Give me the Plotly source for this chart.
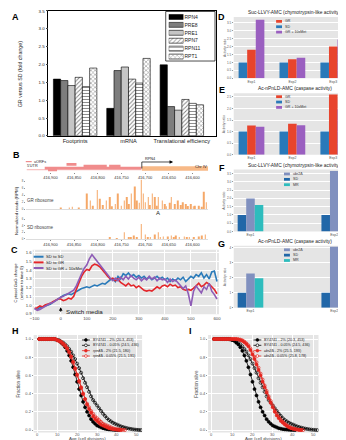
import plotly.graph_objects as go

W, H = 346, 440
FONT = "Liberation Sans, Arial, sans-serif"


def fx(p):
    return p / W


def fy(p):
    return 1 - p / H


def dx(a, b):
    return [fx(a), fx(b)]


def dy(top, bottom):
    return [fy(bottom), fy(top)]


# ---------------- Panel A data ----------------
a_categories = ["Footprints", "mRNA", "Translational efficiency"]
a_genes = ["RPN4", "PRE8", "PRE1", "RPN7", "RPN11", "RPT1"]
a_rpn4 = [1.59, 0.77, 1.99]
a_pre8 = [1.55, 1.83, 0.82]
a_pre1 = [1.41, 1.93, 0.72]
a_rpn7 = [1.64, 1.59, 1.02]
a_rpn11 = [1.38, 1.48, 0.91]
a_rpt1 = [1.90, 2.17, 0.87]
a_yticks = [0.0, 0.5, 1.0, 1.5, 2.0, 2.5, 3.0, 3.5]

# ---------------- Panel B data ----------------
b_ticks = [416900, 416850, 416800, 416750, 416700, 416650, 416600]
b_gr_pos = [416878, 416854, 416823, 416816, 416801, 416796, 416782, 416775, 416763,
            416758, 416744, 416739, 416729, 416722, 416717, 416708, 416704, 416700,
            416693, 416685, 416679, 416672, 416664, 416659, 416645, 416638, 416631,
            416621, 416614, 416604, 416595, 416587, 416576, 416571,
            416860, 416840, 416810, 416790, 416770, 416750, 416735, 416712, 416690,
            416675, 416655, 416648, 416625, 416610, 416598, 416580]
b_gr_rpm = [0.5, 0.7, 4.5, 2.5, 5.5, 3.0, 2.5, 3.5, 1.5,
            4.5, 2.5, 3.5, 4.5, 6.5, 2.5, 8.5, 4.5, 2.0,
            3.5, 4.5, 3.5, 3.5, 2.5, 1.5, 3.5, 1.5, 2.5,
            2.0, 1.5, 1.5, 1.0, 1.0, 5.0, 2.0,
            0.3, 0.4, 1.0, 1.2, 0.8, 1.0, 1.5, 1.8, 1.2,
            1.0, 0.8, 1.8, 1.2, 0.9, 0.8, 0.7]
b_sd_pos = [416775, 416744, 416734, 416724, 416717, 416708, 416700, 416689, 416679,
            416672, 416662, 416652, 416645, 416635, 416628, 416617, 416607, 416597,
            416587, 416580, 416573, 416760, 416730, 416695, 416668, 416640, 416612]
b_sd_rpm = [0.5, 2.0, 0.5, 1.0, 0.3, 4.5, 1.3, 0.5, 1.3,
            2.0, 0.7, 0.7, 1.0, 1.0, 0.3, 0.7, 0.5, 0.5,
            0.7, 1.0, 1.3, 0.2, 0.3, 0.4, 0.5, 0.4, 0.3]
uorf_start = [416912, 416866, 416830, 416776, 416905]
uorf_end = [416708, 416845, 416781, 416752, 416886]
uorf_row = [0.2, 2.1, 1.3, 1.3, -0.8]
utr5_start, utr5_end = 416950, 416708
rpn4_start, rpn4_end = 416707, 416567
rpn4_arrow_end = 416645

# ---------------- Panel C data ----------------
c_time = list(range(-100, 601, 10))
c_sd_sd = [0.96, 0.95, 0.97, 0.98, 0.99, 1.00, 1.01, 1.03, 1.05, 1.07,
           1.10, 1.11, 1.12, 1.13, 1.12, 1.14, 1.15, 1.17, 1.19, 1.20,
           1.21, 1.20, 1.22, 1.23, 1.22, 1.24, 1.25, 1.24, 1.27, 1.29,
           1.30, 1.27, 1.33, 1.30, 1.36, 1.34, 1.37, 1.33, 1.35, 1.32,
           1.34, 1.31, 1.33, 1.30, 1.32, 1.29, 1.31, 1.33, 1.30, 1.32,
           1.29, 1.31, 1.27, 1.30, 1.28, 1.31, 1.29, 1.32, 1.27, 1.30,
           1.33, 1.31, 1.35, 1.33, 1.37, 1.31, 1.35, 1.30, 1.38, 1.39, 1.27]
c_sd_gr = [0.96, 0.97, 0.99, 0.98, 1.00, 1.01, 1.02, 1.04, 1.06, 1.07,
           1.07, 1.05, 1.06, 1.08, 1.07, 1.10, 1.18, 1.26, 1.33, 1.38,
           1.41, 1.40, 1.45, 1.47, 1.46, 1.44, 1.41, 1.37, 1.33, 1.30,
           1.31, 1.28, 1.30, 1.26, 1.24, 1.22, 1.25, 1.22, 1.23, 1.20,
           1.22, 1.19, 1.17, 1.16, 1.17, 1.16, 1.19, 1.21, 1.19, 1.22,
           1.23, 1.21, 1.24, 1.22, 1.23, 1.20, 1.21, 1.18, 1.17, 1.18,
           1.17, 1.19, 1.22, 1.25, 1.21, 1.23, 1.26, 1.24, 1.21, 1.18, 1.13]
c_sd_gr_met = [0.96, 0.94, 0.95, 0.97, 0.99, 1.00, 1.02, 1.03, 1.05, 1.08,
               1.09, 1.10, 1.12, 1.13, 1.15, 1.17, 1.22, 1.30, 1.36, 1.42,
               1.46, 1.53, 1.58, 1.54, 1.50, 1.46, 1.42, 1.38, 1.35, 1.31,
               1.28, 1.31, 1.28, 1.32, 1.29, 1.33, 1.30, 1.34, 1.31, 1.29,
               1.32, 1.28, 1.31, 1.29, 1.33, 1.30, 1.32, 1.28, 1.31, 1.29,
               1.30, 1.26, 1.30, 1.27, 1.29, 1.26, 1.23, 1.19, 1.22, 1.13,
               0.99, 1.16, 1.22, 1.18, 1.14, 1.21, 1.18, 1.25, 1.16, 1.12, 1.07]
c_names = ["SD to SD", "SD to GR", "SD to GR + 10xMet"]
c_xticks = [-100, 0, 100, 200, 300, 400, 500, 600]
c_yticks = [0.9, 1.0, 1.1, 1.2, 1.3, 1.4, 1.5, 1.6]

# ---------------- Panels D-G data ----------------
de_exps = ["Exp1", "Exp2", "Exp3"]
de_names = ["GR", "SD", "GR + 10xMet"]
d_gr = [1.8, 1.2, 2.0]
d_sd = [1.0, 1.0, 1.0]
d_gr_met = [3.7, 1.3, 2.45]
e_gr = [1.26, 1.34, 2.6]
e_sd = [1.0, 1.0, 1.0]
e_gr_met = [1.21, 1.27, 1.96]
fg_exps = ["Exp1", "Exp2"]
fg_names = ["ubr2Δ", "SD", "MR"]
f_ubr2 = [2.0, 3.66]
f_sd = [1.0, 1.0]
f_mr = [1.6, 2.26]
g_ubr2 = [2.29, 4.07]
g_sd = [1.0, 1.0]
g_mr = [1.96, 3.13]

# ---------------- Panels H-I data ----------------
ages = list(range(1, 53))
by_2 = [1, 1, 1, 1, 1, 1, 1, 1, 0.995, 0.99, 0.98, 0.96, 0.94, 0.91, 0.87, 0.82, 0.76,
        0.69, 0.61, 0.53, 0.45, 0.38, 0.31, 0.25, 0.20, 0.16, 0.12, 0.09, 0.07, 0.05,
        0.04, 0.03, 0.02, 0.015, 0.01, 0.007, 0.005, 0.003, 0.002, 0.001, 0.0]
by_005 = [1, 1, 1, 1, 1, 1, 1, 1, 1, 0.99, 0.985, 0.97, 0.96, 0.94, 0.92, 0.89, 0.86,
          0.82, 0.78, 0.73, 0.68, 0.63, 0.57, 0.52, 0.47, 0.42, 0.37, 0.33, 0.30, 0.27,
          0.24, 0.21, 0.18, 0.155, 0.13, 0.11, 0.095, 0.08, 0.07, 0.06, 0.05, 0.04,
          0.033, 0.027, 0.021, 0.016, 0.012, 0.008, 0.005, 0.003, 0.001, 0.0]
rpn4_2 = [1, 1, 1, 1, 1, 1, 1, 1, 1, 0.99, 0.98, 0.97, 0.95, 0.93, 0.90, 0.86, 0.81,
          0.75, 0.68, 0.61, 0.54, 0.47, 0.40, 0.34, 0.28, 0.23, 0.19, 0.15, 0.12, 0.10,
          0.08, 0.06, 0.05, 0.04, 0.03, 0.02, 0.015, 0.01, 0.007, 0.004, 0.002, 0.0]
rpn4_005 = [1, 1, 1, 1, 1, 1, 1, 1, 1, 0.985, 0.975, 0.96, 0.94, 0.92, 0.89, 0.85, 0.80,
            0.74, 0.67, 0.60, 0.53, 0.46, 0.40, 0.34, 0.29, 0.25, 0.21, 0.18, 0.15, 0.13,
            0.11, 0.09, 0.07, 0.06, 0.05, 0.04, 0.03, 0.02, 0.015, 0.01, 0.007, 0.004,
            0.002, 0.0]
ubr2_2 = [1, 1, 1, 1, 1, 1, 1, 1, 1, 1, 1, 1, 0.995, 0.99, 0.98, 0.965, 0.945, 0.92,
          0.88, 0.83, 0.78, 0.72, 0.66, 0.60, 0.53, 0.47, 0.41, 0.35, 0.30, 0.25, 0.20,
          0.16, 0.13, 0.10, 0.08, 0.06, 0.045, 0.03, 0.02, 0.014, 0.009, 0.005, 0.002, 0.0]
ubr2_005 = [1, 1, 1, 1, 1, 1, 1, 1, 1, 1, 1, 1, 0.998, 0.993, 0.985, 0.972, 0.953, 0.93,
            0.895, 0.85, 0.80, 0.745, 0.685, 0.62, 0.555, 0.49, 0.43, 0.37, 0.32, 0.27,
            0.22, 0.18, 0.145, 0.115, 0.09, 0.07, 0.052, 0.038, 0.027, 0.018, 0.012,
            0.007, 0.004, 0.002, 0.0]
h_names = ["BY4741 - 2% (20.3, 453)", "BY4741 - 0.05% (24.5, 436)",
           "<i>rpn4</i>Δ - 2% (21.5, 180)", "<i>rpn4</i>Δ - 0.05% (21.5, 191)"]
i_names = ["BY4741 - 2% (20.3, 453)", "BY4741 - 0.05% (24.5, 436)",
           "<i>ubr2</i>Δ - 2% (25.5, 193)", "<i>ubr2</i>Δ - 0.05% (25.8, 178)"]
hi_yticks = [0.0, 0.2, 0.4, 0.6, 0.8, 1.0]
hi_xticks = [0, 10, 20, 30, 40, 50]

# =====================================================================
fig = go.Figure()
layout = dict(width=W, height=H, margin=dict(l=0, r=0, t=0, b=0), autosize=False,
              paper_bgcolor="white", plot_bgcolor="rgba(0,0,0,0)", showlegend=False,
              font=dict(family=FONT, size=5, color="#333"), barmode="overlay")
ann = []
shapes = []


def text(px, py, s, size, anchor="center", angle=0, color="#222", bold=False):
    if bold:
        s = "<b>" + s + "</b>"
    ann.append(dict(x=fx(px), y=fy(py), xref="paper", yref="paper", text=s,
                    showarrow=False, font=dict(size=size, color=color, family=FONT),
                    xanchor=anchor, yanchor="middle", textangle=angle, borderpad=0))


def bg(x0, x1, top, bottom, color="#e5e5e5"):
    shapes.append(dict(type="rect", xref="paper", yref="paper", x0=fx(x0), x1=fx(x1),
                       y0=fy(bottom), y1=fy(top), fillcolor=color, line=dict(width=0),
                       layer="below"))


# ---------------- Panel A ----------------
a_series = [a_rpn4, a_pre8, a_pre1, a_rpn7, a_rpn11, a_rpt1]
a_fill = ["black", "#7d7d7d", "#c6c6c6", "white", "white", "white"]
a_pat = ["", "", "", "/", "-", "x"]
gw = 0.815
w = gw / 6
for i, vals in enumerate(a_series):
    fig.add_trace(go.Bar(
        x=a_categories, y=vals, width=w, offset=-gw / 2 + i * w, name=a_genes[i],
        marker=dict(color=a_fill[i], line=dict(color="black", width=0.6),
                    pattern=dict(shape=a_pat[i], fgcolor="black", bgcolor=a_fill[i],
                                 size=3, solidity=0.3)),
        xaxis="x", yaxis="y"))
# legend swatches
fig.add_trace(go.Bar(
    y=a_genes, x=[1] * 6, orientation="h", width=0.62,
    marker=dict(color=a_fill, line=dict(color="black", width=0.6),
                pattern=dict(shape=a_pat, fgcolor="black", bgcolor=a_fill, size=3,
                             solidity=0.3)),
    xaxis="x2", yaxis="y2"))
layout["xaxis"] = dict(domain=dx(38, 208), anchor="y", type="category", range=[-0.5, 2.64],
                       showline=True, linecolor="black", linewidth=0.8, mirror=True,
                       ticks="", tickfont=dict(size=5.6, color="#222"), showgrid=False,
                       zeroline=False)
layout["yaxis"] = dict(domain=dy(2, 128), anchor="x", range=[0, 3.5], tickvals=a_yticks,
                       tickformat=".1f", showline=True, linecolor="black", linewidth=0.8,
                       mirror=True, ticks="outside", ticklen=2, tickwidth=0.6,
                       tickfont=dict(size=4.4, color="#222"), showgrid=False, zeroline=False)
layout["xaxis2"] = dict(domain=dx(160, 175), anchor="y2", range=[0, 1], visible=False)
layout["yaxis2"] = dict(domain=dy(4, 52), anchor="x2", type="category", autorange="reversed",
                        side="right", showgrid=False, zeroline=False, showline=False,
                        ticks="", tickfont=dict(size=5, color="#222"))
shapes.append(dict(type="rect", xref="paper", yref="paper", x0=fx(157), x1=fx(207),
                   y0=fy(52.5), y1=fy(2.5), line=dict(color="black", width=0.7)))
text(10, 66, "GR versus SD (fold change)", 5.3, angle=-90)
text(5, 8, "A", 9, bold=True, color="black")

# ---------------- Panel B ----------------
b_range = [416952, 416567]
ux, uy = [], []
for s, e, r in zip(uorf_start, uorf_end, uorf_row):
    ux += [s, e, None]
    uy += [r, r, None]
fig.add_trace(go.Scatter(x=[utr5_start, utr5_end], y=[-0.6, -0.6], mode="lines",
                         line=dict(color="#f6b3b3", width=1), xaxis="x3", yaxis="y3"))
fig.add_trace(go.Scatter(x=ux, y=uy, mode="lines", line=dict(color="#f08c8c", width=2.6),
                         xaxis="x3", yaxis="y3"))
fig.add_trace(go.Scatter(x=[rpn4_start, rpn4_end], y=[0, 0], mode="lines",
                         line=dict(color="#f7b987", width=4.5), xaxis="x3", yaxis="y3"))
fig.add_trace(go.Scatter(x=[rpn4_start, rpn4_start, rpn4_arrow_end], y=[0, 3.3, 3.3],
                         mode="lines", line=dict(color="black", width=0.7),
                         xaxis="x3", yaxis="y3"))
ann.append(dict(x=rpn4_arrow_end - 4, y=3.3, ax=rpn4_arrow_end + 6, ay=3.3, xref="x3",
                yref="y3", axref="x3", ayref="y3", showarrow=True, arrowhead=2,
                arrowsize=1, arrowwidth=0.7, arrowcolor="black", text=""))
fig.add_trace(go.Bar(x=b_gr_pos, y=b_gr_rpm, width=1.3, marker=dict(color="#f5a868", line=dict(width=0)),
                     xaxis="x4", yaxis="y4"))
fig.add_trace(go.Bar(x=b_sd_pos, y=b_sd_rpm, width=1.3, marker=dict(color="#f5a868", line=dict(width=0)),
                     xaxis="x5", yaxis="y5"))
layout["xaxis3"] = dict(domain=dx(15, 200), anchor="y3", range=b_range, tickvals=b_ticks,
                        tickformat=",d", tickfont=dict(size=4, color="#333"), ticks="outside",
                        ticklen=1.5, tickwidth=0.5, tickcolor="#888", showgrid=False,
                        zeroline=False, showline=False)
layout["yaxis3"] = dict(domain=dy(149, 164), anchor="x3", range=[-1.5, 6], visible=False)
layout["xaxis4"] = dict(domain=dx(15, 200), anchor="y4", range=b_range, showticklabels=False,
                        ticks="", showgrid=False, zeroline=False, showline=True,
                        linecolor="#dddddd", linewidth=0.5)
layout["yaxis4"] = dict(domain=dy(172, 202), anchor="x4", range=[0, 8.5], tickvals=[0, 2, 4, 6, 8],
                        tickfont=dict(size=2.8, color="#555"), ticks="outside", ticklen=1,
                        tickwidth=0.4, tickcolor="#999", showgrid=False, zeroline=False,
                        showline=False)
layout["xaxis5"] = dict(domain=dx(15, 200), anchor="y5", range=b_range, tickvals=b_ticks,
                        tickformat=",d", tickfont=dict(size=4, color="#333"), ticks="outside",
                        ticklen=1.5, tickwidth=0.5, tickcolor="#888", showgrid=False,
                        zeroline=False, showline=True, linecolor="#dddddd", linewidth=0.5)
layout["yaxis5"] = dict(domain=dy(211, 232), anchor="x5", range=[0, 6.3], tickvals=[0, 2, 4, 6],
                        tickfont=dict(size=2.8, color="#555"), ticks="outside", ticklen=1,
                        tickwidth=0.4, tickcolor="#999", showgrid=False, zeroline=False,
                        showline=False)
shapes.append(dict(type="line", xref="paper", yref="paper", x0=fx(15), x1=fx(21),
                   y0=fy(154), y1=fy(154), line=dict(color="#f08c8c", width=1.2)))
text(22.5, 154, "uORFs", 3.8, anchor="left")
text(15, 158.5, "5'UTR", 3.8, anchor="left")
text(134.5, 151.5, "RPN4", 3.8, anchor="left")
text(186, 158.5, "Chr IV", 4.2, anchor="left")
text(15.5, 193, "GR ribosome", 4.5, anchor="left", color="#444")
text(15.5, 221, "SD ribosome", 4.5, anchor="left", color="#444")
text(149, 205.5, "A", 6, color="#222")
text(5, 203, "Normalized reads (RPM)", 4.4, angle=-90)
text(6, 147, "B", 9, bold=True, color="black")

# ---------------- Panel C ----------------
c_colors = ["#2b7bba", "#e3262b", "#8e5cb6"]
for vals, col in zip([c_sd_sd, c_sd_gr, c_sd_gr_met], c_colors):
    fig.add_trace(go.Scatter(x=c_time, y=vals, mode="lines", line=dict(color=col, width=1.6),
                             xaxis="x6", yaxis="y6"))
bg(22, 211, 243, 308)
layout["xaxis6"] = dict(domain=dx(22, 211), anchor="y6", range=[-107.6, 607.6], tickvals=c_xticks,
                        tickfont=dict(size=4.3, color="#444"), ticks="", showgrid=True,
                        gridcolor="white", gridwidth=0.7, zeroline=False, showline=False)
layout["yaxis6"] = dict(domain=dy(243, 308), anchor="x6", range=[0.895, 1.635], tickvals=c_yticks,
                        tickformat=".1f", tickfont=dict(size=4.3, color="#444"), ticks="",
                        showgrid=True, gridcolor="white", gridwidth=0.7, zeroline=False,
                        showline=False)
for k, (nm, col) in enumerate(zip(c_names, c_colors)):
    yy = 250 + k * 5.7
    shapes.append(dict(type="line", xref="paper", yref="paper", x0=fx(23), x1=fx(33),
                       y0=fy(yy), y1=fy(yy), line=dict(color=col, width=2)))
    text(35, yy, nm, 4.2, anchor="left")
ann.append(dict(x=0, y=0.975, ax=0, ay=0.905, xref="x6", yref="y6", axref="x6", ayref="y6",
                showarrow=True, arrowhead=2, arrowsize=0.9, arrowwidth=0.8,
                arrowcolor="black", text=""))
text(55, 305.5, "Switch media", 6.2, anchor="left", color="#222")
text(8, 276, "Cytosol GoG change<br>(relative to time 0)", 4.2, angle=-90)
text(4, 243, "C", 9, bold=True, color="black")

# ---------------- Panels D-G ----------------


def grouped(cats, series, colors, gwid, xa, ya):
    n = len(series)
    wd = gwid / n
    for i, (vals, c) in enumerate(zip(series, colors)):
        fig.add_trace(go.Bar(x=cats, y=vals, width=wd, offset=-gwid / 2 + i * wd,
                             marker=dict(color=c, line=dict(width=0)), xaxis=xa, yaxis=ya))


def small_axes(n, top, bottom, xrange, yrange, tickvals, fmt):
    bg(226, 345, top, bottom)
    layout["xaxis%d" % n] = dict(domain=dx(226, 345), anchor="y%d" % n, type="category",
                                 range=xrange, showgrid=False, ticks="",
                                 tickfont=dict(size=3.5, color="#555"), showline=False,
                                 zeroline=False)
    layout["yaxis%d" % n] = dict(domain=dy(top, bottom), anchor="x%d" % n, range=yrange,
                                 tickvals=tickvals, tickformat=fmt,
                                 tickfont=dict(size=3, color="#555"), gridcolor="white",
                                 gridwidth=0.5, showgrid=True, zeroline=False, ticks="outside",
                                 ticklen=1, tickwidth=0.4, tickcolor="#999", showline=False)
    text(216.5, (top + bottom) / 2, "Activity ratio", 3.4, angle=-90, color="#555")


def small_legend(x0, y0, names, colors):
    for k, (nm, col) in enumerate(zip(names, colors)):
        yy = y0 + k * 5.4
        shapes.append(dict(type="rect", xref="paper", yref="paper", x0=fx(x0), x1=fx(x0 + 6),
                           y0=fy(yy + 1.4), y1=fy(yy - 1.4), fillcolor=col,
                           line=dict(width=0)))
        text(x0 + 8, yy, nm, 3.6, anchor="left", color="#333")


de_colors = ["#e8442d", "#2a79b9", "#9a5fc0"]
fg_colors = ["#8090bf", "#2167a8", "#2ebcbd"]
grouped(de_exps, [d_sd, d_gr, d_gr_met], [de_colors[1], de_colors[0], de_colors[2]], 0.63, "x7", "y7")
small_axes(7, 8, 70, [-0.434, 2.434], [0, 3.87], [0, 0.5, 1.0, 1.5, 2.0, 2.5, 3.0, 3.5], ".1f")
small_legend(269, 12.5, de_names, de_colors)
text(288, 3.5, "Suc-LLVY-AMC (chymotrypsin-like activity)", 4.9, color="#222")
text(214, 8, "D", 9, bold=True, color="black")

grouped(de_exps, [e_sd, e_gr, e_gr_met], [de_colors[1], de_colors[0], de_colors[2]], 0.63, "x8", "y8")
small_axes(8, 85, 147, [-0.434, 2.434], [0, 2.66], [0, 0.5, 1.0, 1.5, 2.0, 2.5], ".1f")
small_legend(269, 88.5, de_names, de_colors)
text(288, 80, "Ac-nPnLD-AMC (caspase activity)", 4.9, color="#222")
text(214, 82, "E", 9, bold=True, color="black")

grouped(fg_exps, [f_sd, f_ubr2, f_mr], [fg_colors[1], fg_colors[0], fg_colors[2]], 0.306, "x9", "y9")
small_axes(9, 162, 224.5, [-0.2, 1.2], [0, 3.75], [0, 0.5, 1.0, 1.5, 2.0, 2.5, 3.0, 3.5], ".1f")
small_legend(277, 166.5, fg_names, fg_colors)
text(288, 158, "Suc-LLVY-AMC (chymotrypsin-like activity)", 4.9, color="#222")
text(214, 160, "F", 9, bold=True, color="black")

grouped(fg_exps, [g_sd, g_ubr2, g_mr], [fg_colors[1], fg_colors[0], fg_colors[2]], 0.306, "x10", "y10")
small_axes(10, 239, 301.5, [-0.2, 1.2], [0, 4.13], [0, 1, 2, 3, 4], "d")
small_legend(277, 243, fg_names, fg_colors)
text(288, 235, "Ac-nPnLD-AMC (caspase activity)", 4.9, color="#222")
text(214, 237, "G", 9, bold=True, color="black")

# ---------------- Panels H-I ----------------
hi_red = "#e5261f"


def survival(n, x0, x1, xrange, series, names, leg_x, ylab_x):
    styles = [("black", "circle"), ("black", "circle-open"), (hi_red, "circle"),
              (hi_red, "circle-open")]
    for vals, (col, sym) in zip(series, styles):
        fig.add_trace(go.Scatter(x=ages[:len(vals)], y=vals, mode="lines+markers",
                                 line=dict(color=col, width=0.8),
                                 marker=dict(color=col, symbol=sym, size=3,
                                             line=dict(color=col, width=0.7)),
                                 xaxis="x%d" % n, yaxis="y%d" % n))
    bg(x0, x1, 329, 427.5)
    layout["xaxis%d" % n] = dict(domain=dx(x0, x1), anchor="y%d" % n, range=xrange,
                                 tickvals=hi_xticks, showticklabels=False, ticks="",
                                 showgrid=True, gridcolor="white", gridwidth=0.7,
                                 zeroline=False, showline=False)
    layout["yaxis%d" % n] = dict(domain=dy(329, 427.5), anchor="x%d" % n, range=[-0.028, 1.044],
                                 tickvals=hi_yticks, tickformat=".1f",
                                 tickfont=dict(size=4, color="#555"), ticks="outside",
                                 ticklen=1, tickwidth=0.4, tickcolor="#999", showgrid=True,
                                 gridcolor="white", gridwidth=0.7, zeroline=False,
                                 showline=False)
    # x tick labels placed at the axis tick values, just under the panel
    for tv in hi_xticks:
        ann.append(dict(x=tv, y=fy(429.6), xref="x%d" % n, yref="paper", text=str(tv),
                        showarrow=False, font=dict(size=4, color="#555", family=FONT),
                        xanchor="center", yanchor="middle", borderpad=0))
    for k, (nm, (col, sym)) in enumerate(zip(names, styles)):
        yy = 334 + k * 5.4
        shapes.append(dict(type="line", xref="paper", yref="paper", x0=fx(leg_x),
                           x1=fx(leg_x + 8), y0=fy(yy), y1=fy(yy),
                           line=dict(color=col, width=0.8)))
        shapes.append(dict(type="circle", xref="paper", yref="paper", x0=fx(leg_x + 2.6),
                           x1=fx(leg_x + 5.4), y0=fy(yy + 1.4), y1=fy(yy - 1.4),
                           fillcolor=col if sym == "circle" else "white",
                           line=dict(color=col, width=0.7)))
        text(leg_x + 10, yy, nm, 3.7, anchor="left", color="#222")
    text(ylab_x, 378, "Fraction alive", 4.6, angle=-90, color="#444")
    text((x0 + x1) / 2, 433.8, "Age (cell divisions)", 4.4, color="#444")


survival(11, 23, 133, [-1.8, 52.6], [by_2, by_005, rpn4_2, rpn4_005], h_names, 72, 8)
survival(12, 200, 312, [-1.9, 52.6], [by_2, by_005, ubr2_2, ubr2_005], i_names, 246, 188)
text(5, 325, "H", 9, bold=True, color="black")
text(182, 325, "I", 9, bold=True, color="black")

layout["annotations"] = ann
layout["shapes"] = shapes
fig.update_layout(**layout)
fig.update_traces(showlegend=False)
fig.write_html("out.html")
